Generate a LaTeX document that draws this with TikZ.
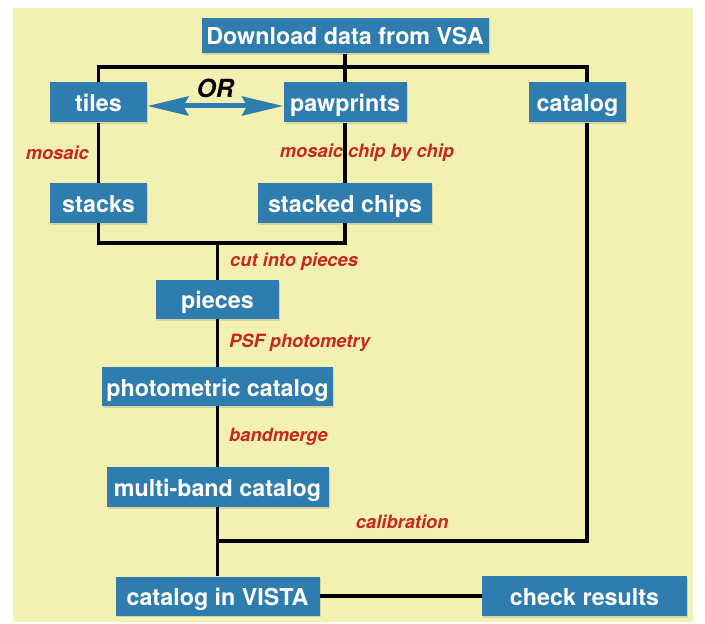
\documentclass[tikz,border=0pt]{standalone}
\usepackage{fontspec}
\setmainfont{TeX Gyre Heros}
\usetikzlibrary{arrows.meta,shadows}
\definecolor{boxblue}{RGB}{47,124,174}
\definecolor{bgyellow}{RGB}{243,241,178}
\definecolor{labelred}{RGB}{201,40,30}
\begin{document}
\begin{tikzpicture}[x=0.5pt,y=-0.5pt,line join=miter,
  stepbox/.style={fill=boxblue,text=white,inner sep=0pt,minimum height=20pt,
    text height=10pt,text depth=0.5pt,
    font=\fontsize{11.65}{14}\selectfont\bfseries,
    drop shadow={shadow xshift=0.6pt,shadow yshift=-0.8pt,opacity=0.25}},
  link/.style={draw=black,line width=1.65pt},
  lbl/.style={text=labelred,inner sep=0pt,font=\fontsize{9.15}{11}\selectfont\bfseries\itshape},
  ortip/.tip={Stealth[length=20.5pt,width=9.5pt,inset=2.5pt]},
  orarrow/.style={draw=boxblue,line width=2.5pt,ortip-ortip}]
  \def\smallw{48.5pt} % width of the small boxes
  \useasboundingbox (0,0) rectangle (705,624);
  \fill[bgyellow] (13,8) rectangle (693,622);
  % boxes
  \node[stepbox,minimum width=143.5pt,minimum height=17.75pt] (dl) at (345,35.5) {Download data from VSA};
  \node[stepbox,minimum width=\smallw] (tiles) at (98.5,102.5) {tiles};
  \node[stepbox,minimum width=61.5pt] (paw) at (345,102.5) {pawprints};
  \node[stepbox,minimum width=\smallw] (cat) at (577.5,102.5) {catalog};
  \node[stepbox,minimum width=\smallw] (stacks) at (98.5,203) {stacks};
  \node[stepbox,minimum width=87pt] (stch) at (345,203) {stacked chips};
  \node[stepbox,minimum width=61.5pt,minimum height=19.5pt] (pieces) at (217.5,299.5) {pieces};
  \node[stepbox,minimum width=115.5pt,minimum height=19.5pt] (photcat) at (217.5,386.5) {photometric catalog};
  \node[stepbox,minimum width=111pt] (mbcat) at (217.5,487) {multi-band catalog};
  \node[stepbox,minimum width=102pt,minimum height=19.5pt] (vista) at (217.5,596) {catalog in VISTA};
  \node[stepbox,minimum width=102.5pt] (check) at (584.5,596) {check results};
  % joints
  \coordinate (split) at (345,67);
  \coordinate (mrg) at (217.5,243);
  \coordinate (cal) at (217.5,541);
  % connectors
  \draw[link] (dl) -- (paw);
  \draw[link] (tiles.north) |- (split) -| ([xshift=4.75pt]cat.north);
  \draw[link] (tiles) -- node[lbl,left=4pt] {mosaic} (stacks);
  \draw[link] (paw) -- node[lbl,xshift=11pt] {mosaic chip by chip} (stch);
  \draw[link] (stacks.south) |- (mrg) -| (stch.south);
  \draw[link] (mrg) -- node[lbl,right=5.5pt] {cut into pieces} (pieces);
  \draw[link] (pieces) -- node[lbl,right=5pt] {PSF photometry} (photcat);
  \draw[link] (photcat) -- node[lbl,right=5pt] {bandmerge} (mbcat);
  \draw[link] (mbcat) -- (vista);
  \draw[link] ([xshift=4.75pt]cat.south) |- node[lbl,pos=0.75,above=5.5pt] {calibration} (cal);
  \draw[link] (vista) -- (check);
  \draw[orarrow] ([yshift=-1.75pt]tiles.east) -- node[above=3pt,inner sep=0pt,font=\fontsize{12.5}{14}\selectfont\bfseries\itshape] {OR} ([yshift=-1.75pt]paw.west);
\end{tikzpicture}
\end{document}
